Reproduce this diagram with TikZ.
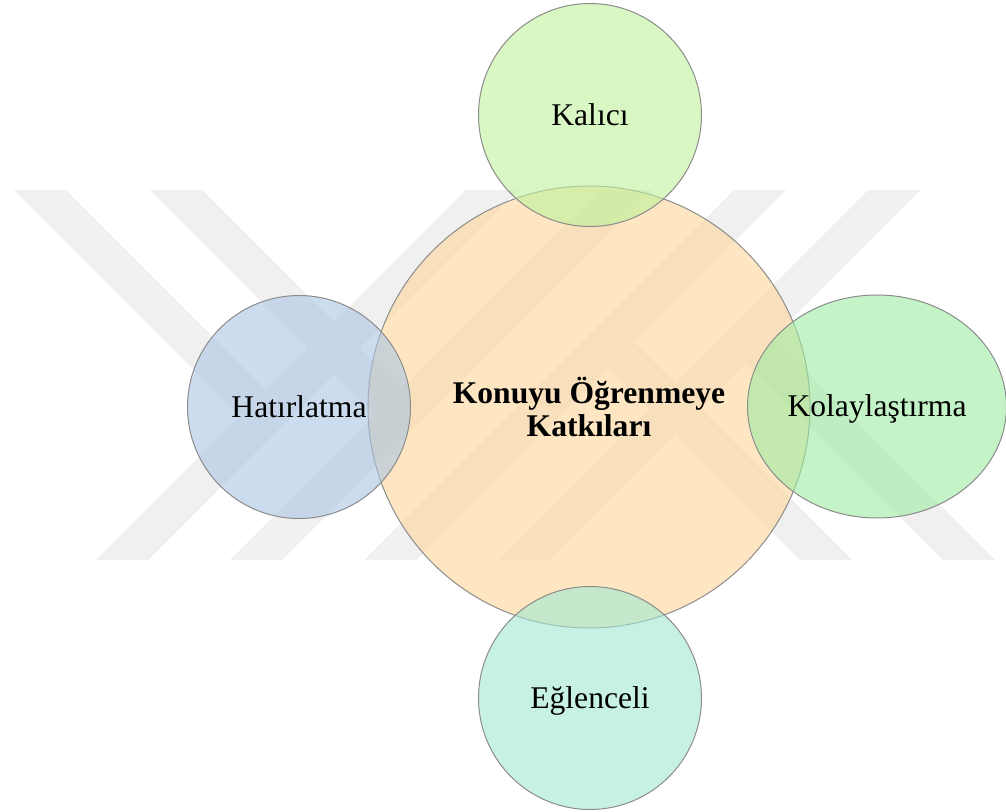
\documentclass[tikz,border=0pt]{standalone}
\usepackage{fontspec}
\setmainfont{Liberation Serif}
\usetikzlibrary{shapes.geometric}

\definecolor{hubfill}{RGB}{252,214,152}
\definecolor{kalicifill}{RGB}{190,242,155}
\definecolor{hatirfill}{RGB}{170,197,228}
\definecolor{kolayfill}{RGB}{157,235,163}
\definecolor{eglencefill}{RGB}{160,232,210}
\definecolor{markgray}{RGB}{240,240,240}

\begin{document}
\begin{tikzpicture}[x=0.5pt, y=0.5pt,
  band/.style={fill=markgray},
  ring/.style={draw=black!45, line width=0.5pt, fill opacity=0.6, text opacity=1, inner sep=0pt},
  bubble/.style={ring, circle, minimum size=111.5pt, text height=10.4pt, text depth=0pt,
    font=\fontsize{15.8}{19}\selectfont}]
  \useasboundingbox (0,0) rectangle (1006,811);

  % watermark in the background
  \foreach \b in {96,230,364,498}
    \fill[band] (\b,251) -- (\b+52,251) -- (\b+422,621) -- (\b+370,621) -- cycle;
  \fill[band] (14,621) -- (66,621) -- (279,408) -- (253,382) -- cycle;
  \fill[band] (150,621) -- (202,621) -- (414,409) -- (388,383) -- cycle;
  \fill[band] (943,251) -- (995,251) -- (759.5,486.5) -- (733.5,460.5) -- cycle;
  \fill[band] (800,251) -- (852,251) -- (621,482) -- (595,456) -- cycle;

  % centre
  \node[ring, circle, fill=hubfill, minimum size=221pt, align=center,
    font=\fontsize{15.8}{16.5}\selectfont\bfseries] (hub) at (589,404)
    {Konuyu Öğrenmeye\\Katkıları};

  % around it
  \node[bubble, fill=kalicifill] (kalici) at (590,696) {Kalıcı};
  \node[bubble, fill=hatirfill] (hatir) at (299,404) {Hatırlatma};
  \node[bubble, fill=eglencefill] (eglence) at (590,113) {Eğlenceli};
  \node[bubble, ellipse, fill=kolayfill, minimum width=129.5pt, minimum height=111.5pt] (kolay) at (877,404.5) {Kolaylaştırma};
\end{tikzpicture}
\end{document}
